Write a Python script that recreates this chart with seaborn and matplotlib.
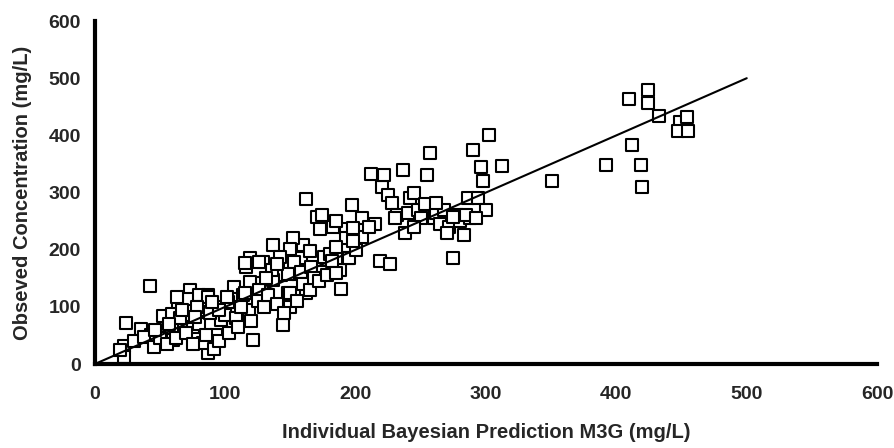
import matplotlib
matplotlib.use("Agg")
import matplotlib.pyplot as plt
import seaborn as sns
import pandas as pd

# Individual Bayesian prediction (x) and observed concentration (y), mg/L
pred = [42, 24, 22, 22, 19, 35, 43, 53, 52, 59, 64, 73, 72, 68, 60, 75, 83, 84, 87, 93,
        87, 83, 91, 97, 98, 102, 107, 114, 118, 109, 106, 121, 119, 128, 116, 129, 137, 143, 150, 148,
        150, 144, 153, 158, 160, 156,
        162, 170, 174, 173, 183, 193, 193, 152, 150, 165, 176, 180, 115, 126, 142, 153, 148, 158, 166, 175,
        188, 194, 119, 137, 189, 162, 150, 63, 80, 87, 101, 115, 126,
        30, 38, 45, 50, 55, 62, 65, 70, 75, 78, 80, 85, 88, 95, 100, 103, 108, 110, 112, 120,
        125, 130, 133, 140, 145, 155, 160, 165, 168, 172, 178, 182, 185, 136, 140, 131, 95, 77, 46, 57,
        67, 90,
        197, 205, 212, 215, 220, 222, 225, 228, 232, 236, 238, 240, 242, 245, 248, 250, 253, 255, 257, 260,
        262, 265, 268, 272, 275, 278, 280, 283, 286, 288, 290, 294, 296, 298, 300, 302, 219, 226, 205, 210,
        198, 195, 200, 185, 198, 185, 230, 245, 262, 270, 285, 292, 275,
        312, 351, 392, 412, 419, 420, 410, 424, 424, 433, 449, 454, 447, 455]
observed = [137, 72, 31, 12, 24, 62, 51, 55, 84, 87, 109, 129, 113, 65, 42, 64, 94, 112, 121, 51,
            19, 36, 27, 77, 100, 109, 134, 121, 94, 87, 68, 42, 185, 141, 170, 179, 208, 156, 176, 124,
            100, 68, 194, 185, 208, 158,
            288, 258, 260, 237, 240, 237, 220, 220, 202, 197, 188, 193, 176, 179, 188, 179, 158, 161, 170, 161,
            164, 185, 144, 147, 132, 124, 124, 118, 121, 118, 118, 124, 129,
            40, 48, 30, 45, 35, 45, 80, 55, 35, 100, 70, 50, 90, 40, 85, 55, 80, 65, 100, 75,
            110, 100, 120, 105, 90, 110, 140, 130, 150, 145, 155, 180, 160, 165, 175, 150, 95, 83, 60, 70,
            95, 108,
            278, 255, 333, 245, 310, 330, 295, 282, 260, 340, 230, 265, 290, 300, 270, 255, 280, 330, 370, 255,
            265, 245, 270, 240, 185, 260, 250, 225, 290, 255, 375, 290, 345, 320, 270, 400, 180, 175, 222, 240,
            238, 185, 200, 205, 215, 250, 255, 240, 282, 230, 260, 255, 258,
            346, 321, 348, 384, 349, 310, 463, 480, 456, 434, 424, 433, 407, 408]

line_x = [0, 500]
line_y = [0, 500]

x_ticks = [0, 100, 200, 300, 400, 500, 600]
y_ticks = [0, 100, 200, 300, 400, 500, 600]

sns.set_style("white")
plt.rcParams['font.family'] = ['Liberation Sans', 'DejaVu Sans']

df = pd.DataFrame({"pred": pred, "obs": observed})

fig = plt.figure(figsize=(8.95, 4.48), dpi=100)
ax = fig.add_axes([0.106, 0.1875, 0.874, 0.7655])

sns.lineplot(x=line_x, y=line_y, color="black", linewidth=1.5, ax=ax, zorder=3)
sns.scatterplot(data=df, x="pred", y="obs", marker="s", s=78, facecolor="white",
                edgecolor="black", linewidth=1.5, ax=ax, zorder=2)

ax.set_xlim(0, 600)
ax.set_ylim(0, 600)
ax.set_xticks(x_ticks)
ax.set_yticks(y_ticks)
ax.set_xticklabels([str(t) for t in x_ticks], fontweight="bold", fontsize=14)
ax.set_yticklabels([str(t) for t in y_ticks], fontweight="bold", fontsize=14)
ax.tick_params(axis="both", direction="out", length=6, width=2.4, color="black")
ax.tick_params(axis="x", pad=10)
ax.tick_params(axis="y", pad=4)

for side in ["top", "right"]:
    ax.spines[side].set_visible(False)
for side in ["left", "bottom"]:
    ax.spines[side].set_linewidth(3)
    ax.spines[side].set_color("black")

ax.set_xlabel("Individual Bayesian Prediction M3G (mg/L)", fontweight="bold", fontsize=14.5, labelpad=14)
ax.set_ylabel("Obseved Concentration (mg/L)", fontweight="bold", fontsize=14.5, labelpad=12)

fig.savefig("out.png", dpi=100)
